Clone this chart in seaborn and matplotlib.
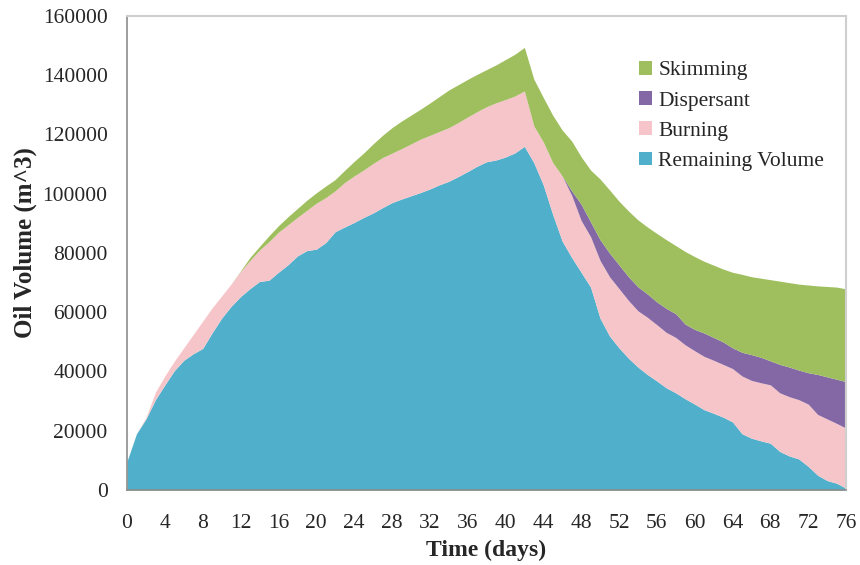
import numpy as np
import matplotlib
matplotlib.use("Agg")
import matplotlib.pyplot as plt
import seaborn as sns

# day index (0..76)
days = list(range(77))

remaining_top = [
    9700, 19000, 24000, 30500, 35500, 40300, 43800, 46000, 47800, 53100,
    58000, 62000, 65300, 68000, 70400, 70800, 73500, 76000, 79000, 80800,
    81300, 83500, 87200, 88800, 90300, 92000, 93500, 95300, 97000, 98200,
    99300, 100400, 101600, 103000, 104200, 105800, 107500, 109300, 110800, 111400,
    112400, 113800, 116000, 110500, 103000, 93000, 84000, 78500, 73500, 68500,
    58000, 52000, 48000, 44500, 41500, 39000, 36800, 34500, 32800, 30800,
    29000, 27100, 25900, 24600, 23000, 19000, 17500, 16600, 15800, 13000,
    11500, 10500, 8000, 5000, 3200, 2300, 600,
]
burning_top = [
    9700, 19000, 24500, 33000, 38500, 43500, 48000, 52500, 57000, 61500,
    65500, 69500, 73800, 77500, 81000, 83800, 87000, 89500, 92000, 94400,
    96800, 98700, 101000, 103800, 106000, 108000, 110200, 112200, 113700, 115200,
    116800, 118400, 119700, 121000, 122300, 124000, 125900, 127700, 129400, 130700,
    131800, 133000, 134700, 122900, 117500, 110500, 106000, 99500, 91000, 85500,
    77500, 72000, 68000, 64000, 60500, 58300, 55800, 53200, 51500, 49000,
    47000, 45100, 43800, 42400, 41000, 38500, 37000, 36200, 35500, 32800,
    31500, 30500, 29000, 25500, 24000, 22500, 20900,
]
dispersant_top = [
    9700, 19000, 24500, 33000, 38500, 43500, 48000, 52500, 57000, 61500,
    65500, 69500, 73800, 77500, 81000, 83800, 87000, 89500, 92000, 94400,
    96800, 98700, 101000, 103800, 106000, 108000, 110200, 112200, 113700, 115200,
    116800, 118400, 119700, 121000, 122300, 124000, 125900, 127700, 129400, 130700,
    131800, 133000, 134700, 122900, 117500, 110500, 106000, 101000, 96500, 90500,
    84500, 80000, 76000, 72000, 68600, 66200, 63500, 61300, 59500, 56000,
    54200, 53000, 51500, 50000, 48000, 46500, 45700, 44800, 43600, 42400,
    41500, 40500, 39600, 39000, 38200, 37400, 36600,
]
skimming_top = [
    9700, 19000, 24500, 33000, 38500, 43500, 48000, 52500, 57000, 61500,
    65500, 69500, 74000, 78500, 82200, 85800, 89200, 92200, 95000, 97800,
    100300, 102600, 104800, 107900, 110900, 113700, 116800, 119700, 122300, 124500,
    126500, 128500, 130600, 132800, 135000, 136800, 138600, 140300, 141900, 143500,
    145300, 147100, 149400, 138700, 132500, 126500, 121500, 117800, 112500, 108000,
    105000, 101300, 97500, 94200, 91200, 88800, 86600, 84500, 82500, 80500,
    78800, 77200, 75900, 74600, 73500, 72800, 72000, 71500, 71000, 70500,
    70000, 69500, 69200, 68900, 68700, 68500, 67900,
]

series_names = ["Remaining Volume", "Burning", "Dispersant", "Skimming"]
series_colors = ["#50B0CB", "#F5C5C9", "#8468A6", "#9FBF5E"]

x_ticks = list(range(0, 77, 4))
y_ticks = list(range(0, 160001, 20000))


def plot_chart():
    sns.set_style("white")
    plt.rcParams["font.family"] = ["Liberation Serif", "DejaVu Serif"]

    tops = np.array([remaining_top, burning_top, dispersant_top, skimming_top])
    layers = np.diff(np.vstack([np.zeros(len(days)), tops]), axis=0)

    fig = plt.figure(figsize=(8.6, 5.65), dpi=100)
    ax = fig.add_axes([127 / 860, 1 - 490 / 565, 719 / 860, 474 / 565])

    polys = ax.stackplot(days, layers, colors=series_colors, labels=series_names,
                         linewidth=0)

    ax.set_xlim(0, 76)
    ax.set_ylim(0, 160000)
    ax.set_xticks(x_ticks)
    ax.set_yticks(y_ticks)
    ax.tick_params(axis="x", length=5, width=1, color="#8C8C8C", direction="out",
                   labelsize=15.5, pad=12)
    ax.tick_params(axis="y", length=0, labelsize=15.5, pad=14)

    for side in ["left", "bottom"]:
        ax.spines[side].set_color("#8C8C8C")
        ax.spines[side].set_linewidth(1.2)
    for side in ["top", "right"]:
        ax.spines[side].set_color("#CFCFCF")
        ax.spines[side].set_linewidth(1.5)

    ax.set_xlabel("Time (days)", fontsize=17, fontweight="bold", labelpad=5)
    ax.set_ylabel("Oil Volume (m^3)", fontsize=18, fontweight="bold")
    ax.yaxis.set_label_coords(-0.125, 0.523)

    handles = polys[::-1]
    labels = series_names[::-1]
    ax.legend(handles, labels, loc="upper left", bbox_to_anchor=(0.712, 0.905),
              frameon=False, fontsize=15.5, handlelength=0.6, handleheight=0.6,
              handletextpad=0.3, labelspacing=0.5, borderpad=0, borderaxespad=0)

    fig.savefig("out.png", dpi=100)


if __name__ == "__main__":
    plot_chart()
